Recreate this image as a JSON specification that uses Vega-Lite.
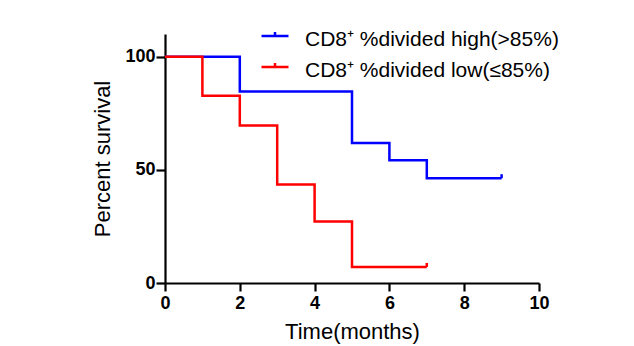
{
  "$schema": "https://vega.github.io/schema/vega-lite/v6.json",
  "width": 374,
  "height": 249,
  "autosize": {"type": "none"},
  "padding": {"left": 165, "top": 34, "right": 95, "bottom": 63},
  "background": "white",
  "config": {
    "view": {"stroke": null},
    "font": "Liberation Sans",
    "axis": {
      "domainColor": "black",
      "domainWidth": 2.2,
      "tickColor": "black",
      "tickWidth": 2.2,
      "tickSize": 8,
      "grid": false,
      "labelFlush": false,
      "labelColor": "black",
      "labelFont": "Liberation Sans",
      "labelFontSize": 18,
      "labelFontWeight": "bold",
      "titleColor": "black",
      "titleFont": "Liberation Sans",
      "titleFontSize": 22,
      "titleFontWeight": "normal"
    }
  },
  "datasets": {
    "curves": [
      {"time": 0, "survival": 100, "group": "CD8⁺ %divided high(>85%)"},
      {"time": 2, "survival": 84.6, "group": "CD8⁺ %divided high(>85%)"},
      {"time": 5, "survival": 61.8, "group": "CD8⁺ %divided high(>85%)"},
      {"time": 6, "survival": 54.2, "group": "CD8⁺ %divided high(>85%)"},
      {"time": 7, "survival": 46.3, "group": "CD8⁺ %divided high(>85%)"},
      {"time": 9, "survival": 46.3, "group": "CD8⁺ %divided high(>85%)"},
      {"time": 0, "survival": 100, "group": "CD8⁺ %divided low(≤85%)"},
      {"time": 1, "survival": 82.7, "group": "CD8⁺ %divided low(≤85%)"},
      {"time": 2, "survival": 69.6, "group": "CD8⁺ %divided low(≤85%)"},
      {"time": 3, "survival": 43.5, "group": "CD8⁺ %divided low(≤85%)"},
      {"time": 4, "survival": 27.2, "group": "CD8⁺ %divided low(≤85%)"},
      {"time": 5, "survival": 7.1, "group": "CD8⁺ %divided low(≤85%)"},
      {"time": 7, "survival": 7.1, "group": "CD8⁺ %divided low(≤85%)"}
    ],
    "censor": [
      {"time": 9, "survival": 46.3, "group": "CD8⁺ %divided high(>85%)"},
      {"time": 7, "survival": 7.1, "group": "CD8⁺ %divided low(≤85%)"}
    ]
  },
  "layer": [
    {
      "data": {"name": "curves"},
      "mark": {"type": "line", "interpolate": "step-after", "strokeWidth": 2.5, "clip": false},
      "encoding": {
        "x": {
          "field": "time", "type": "quantitative",
          "scale": {"domain": [0, 10], "nice": false, "zero": true},
          "axis": {"values": [0, 2, 4, 6, 8, 10], "title": "Time(months)", "labelPadding": 3, "titlePadding": 9}
        },
        "y": {
          "field": "survival", "type": "quantitative",
          "scale": {"domain": [0, 110], "nice": false},
          "axis": {"values": [0, 50, 100], "title": "Percent survival", "tickSize": 9, "labelPadding": 1, "titlePadding": 10}
        },
        "color": {
          "field": "group", "type": "nominal",
          "scale": {
            "domain": ["CD8⁺ %divided high(>85%)", "CD8⁺ %divided low(≤85%)"],
            "range": ["#0000ff", "#ff0000"]
          },
          "legend": {
            "title": null,
            "orient": "none",
            "legendX": 95,
            "legendY": -9,
            "padding": 0,
            "symbolType": "M-1,-0.3L1,-0.3M0,-0.3L0,-0.6",
            "symbolSize": 729,
            "symbolStrokeWidth": 2.5,
            "labelFont": "Liberation Sans",
            "labelFontSize": 21,
            "labelColor": "black",
            "labelOffset": 15,
            "labelLimit": 400,
            "rowPadding": 6
          }
        }
      }
    },
    {
      "data": {"name": "censor"},
      "mark": {"type": "point", "shape": "M0,0L0,-1", "filled": false, "strokeWidth": 2.5, "size": 64, "opacity": 1, "clip": false},
      "encoding": {
        "x": {"field": "time", "type": "quantitative"},
        "y": {"field": "survival", "type": "quantitative"},
        "color": {"field": "group", "type": "nominal", "legend": null}
      }
    }
  ]
}
